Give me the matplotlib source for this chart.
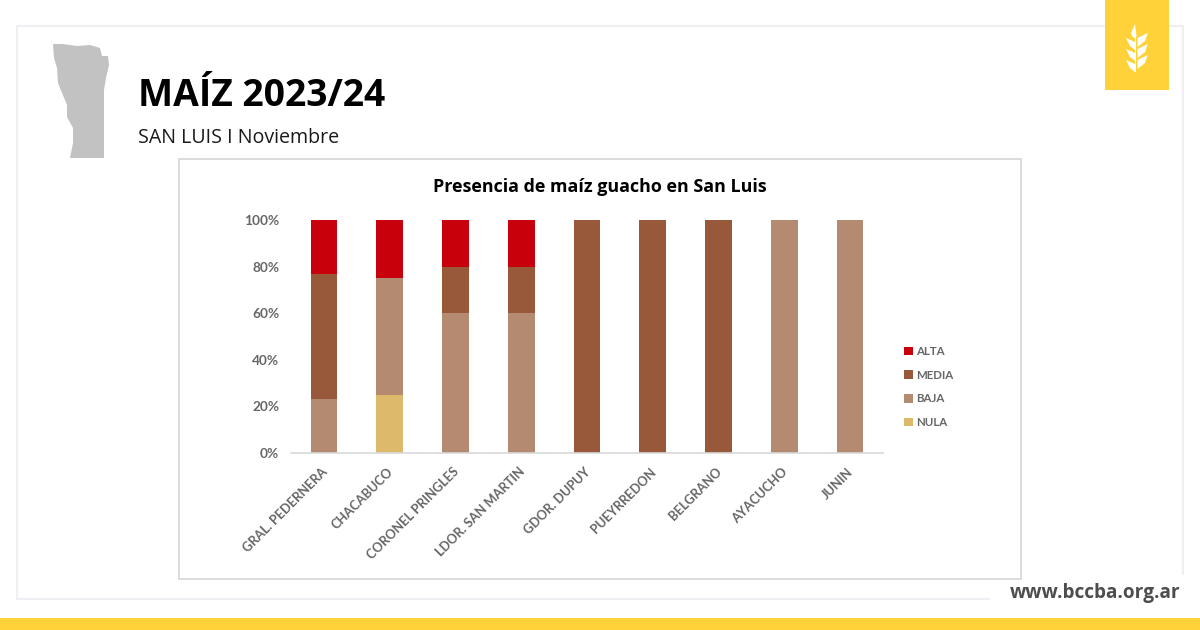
import matplotlib
matplotlib.use("Agg")
import matplotlib.pyplot as plt
from matplotlib.patches import Rectangle, Polygon
from matplotlib.transforms import ScaledTranslation

categories = ["GRAL. PEDERNERA", "CHACABUCO", "CORONEL PRINGLES", "LDOR. SAN MARTIN",
              "GDOR. DUPUY", "PUEYRREDON", "BELGRANO", "AYACUCHO", "JUNIN"]
nula = [0, 25, 0, 0, 0, 0, 0, 0, 0]
baja = [23, 50, 60, 60, 0, 0, 0, 100, 100]
media = [54, 0, 20, 20, 100, 100, 100, 0, 0]
alta = [23, 25, 20, 20, 0, 0, 0, 0, 0]
y_ticks = [0, 20, 40, 60, 80, 100]
series = [("NULA", nula, "#DDB96B"), ("BAJA", baja, "#B48B71"),
          ("MEDIA", media, "#97593A"), ("ALTA", alta, "#C7000B")]

W, H = 1200, 630
fig = plt.figure(figsize=(12, 6.3), dpi=100, facecolor="white")
bg = fig.add_axes([0, 0, 1, 1])
bg.set_xlim(0, W)
bg.set_ylim(H, 0)
bg.axis("off")

# page furniture
bg.add_patch(Rectangle((17, 26), 1166, 573, fc="white", ec="#EEEEF3", lw=1.6))
bg.add_patch(Rectangle((990, 575), 210, 40, fc="white", ec="none"))
bg.add_patch(Rectangle((0, 618), W, 12, fc="#FFD23A", ec="none"))
bg.add_patch(Rectangle((1105, 0), 64, 90, fc="#FFD23A", ec="none", zorder=3))
bg.add_patch(Rectangle((179, 159), 842, 420, fc="white", ec="#DCDCDC", lw=1.4))

# province silhouette
bg.add_patch(Polygon([(53, 44), (63, 44), (77, 46), (90, 45), (100, 48), (102, 56), (108, 56),
                      (109, 65), (106, 78), (104, 90), (104, 158), (70, 158), (73, 143),
                      (73, 128), (67, 117), (67, 105), (58, 83), (57, 68), (54, 58)],
                     fc="#C2C2C2", ec="none"))

# wheat icon
icon = dict(fc="white", ec="none", zorder=4)
bg.add_patch(Polygon([(1135, 24), (1131, 33), (1132, 36), (1135.5, 39), (1136.5, 36)], **icon))
bg.add_patch(Rectangle((1135.2, 36), 1.1, 36, **icon))
for d in (0, 11, 22):
    bg.add_patch(Polygon([(1147.7, 33 + d), (1137.5, 38 + d), (1137.5, 47 + d), (1145, 41 + d)], **icon))
    bg.add_patch(Polygon([(1126, 38 + d), (1135, 42 + d), (1135, 50 + d), (1130, 46 + d)], **icon))

# headings
bg.text(138, 96, "MAÍZ 2023/24", family="Open Sans", weight="bold", fontsize=26.8,
        color="black", va="center", ha="left")
bg.text(138, 138, "SAN LUIS I Noviembre", family="Open Sans", fontsize=14.1,
        color="#1A1A1A", va="center", ha="left")
bg.text(600, 187.5, "Presencia de maíz guacho en San Luis", family="Open Sans", weight="bold",
        fontsize=12.85, color="black", va="center", ha="center")
bg.text(1180, 593, "www.bccba.org.ar", family="Open Sans", weight="bold", fontsize=13.7,
        color="#4D4D4D", va="center", ha="right")

# chart
ax = fig.add_axes([291 / W, 1 - 453 / H, 592 / W, 233 / H], facecolor="none")
x = list(range(len(categories)))
bottom = [0] * len(categories)
handles = {}
for name, vals, col in series:
    handles[name] = ax.bar(x, vals, width=0.405, bottom=bottom, color=col, label=name, linewidth=0)
    bottom = [b + v for b, v in zip(bottom, vals)]
ax.set_xlim(-0.5, len(categories) - 0.5)
ax.set_ylim(0, 100)
ax.set_yticks(y_ticks)
ax.set_yticklabels([f"{v}%" for v in y_ticks], family="Lato", weight="bold",
                   fontsize=9.8, color="#666666")
ax.set_xticks(x)
ax.set_xticklabels(categories, rotation=45, ha="right", va="top", rotation_mode="anchor",
                   family="Lato", weight="bold", fontsize=9.2, color="#666666")
ax.tick_params(axis="both", length=0)
ax.tick_params(axis="x", pad=9)
ax.tick_params(axis="y", pad=8.5)
shift = ScaledTranslation(-3 / 100, 0, fig.dpi_scale_trans)
for lab in ax.get_xticklabels():
    lab.set_transform(lab.get_transform() + shift)
for s in ("top", "right", "left"):
    ax.spines[s].set_visible(False)
ax.spines["bottom"].set_color("#D9D9D9")
ax.spines["bottom"].set_linewidth(1.2)

h = [handles[n] for n in ("ALTA", "MEDIA", "BAJA", "NULA")]
leg = fig.legend(h, ["ALTA", "MEDIA", "BAJA", "NULA"], loc="center left",
                 bbox_to_anchor=(894 / W, 1 - 387 / H), frameon=False, handlelength=0.78,
                 handleheight=0.78, handletextpad=0.22, labelspacing=1.1,
                 prop={"family": "Lato", "weight": "bold", "size": 8.3},
                 labelcolor="#666666")

fig.savefig("out.png", dpi=100)
